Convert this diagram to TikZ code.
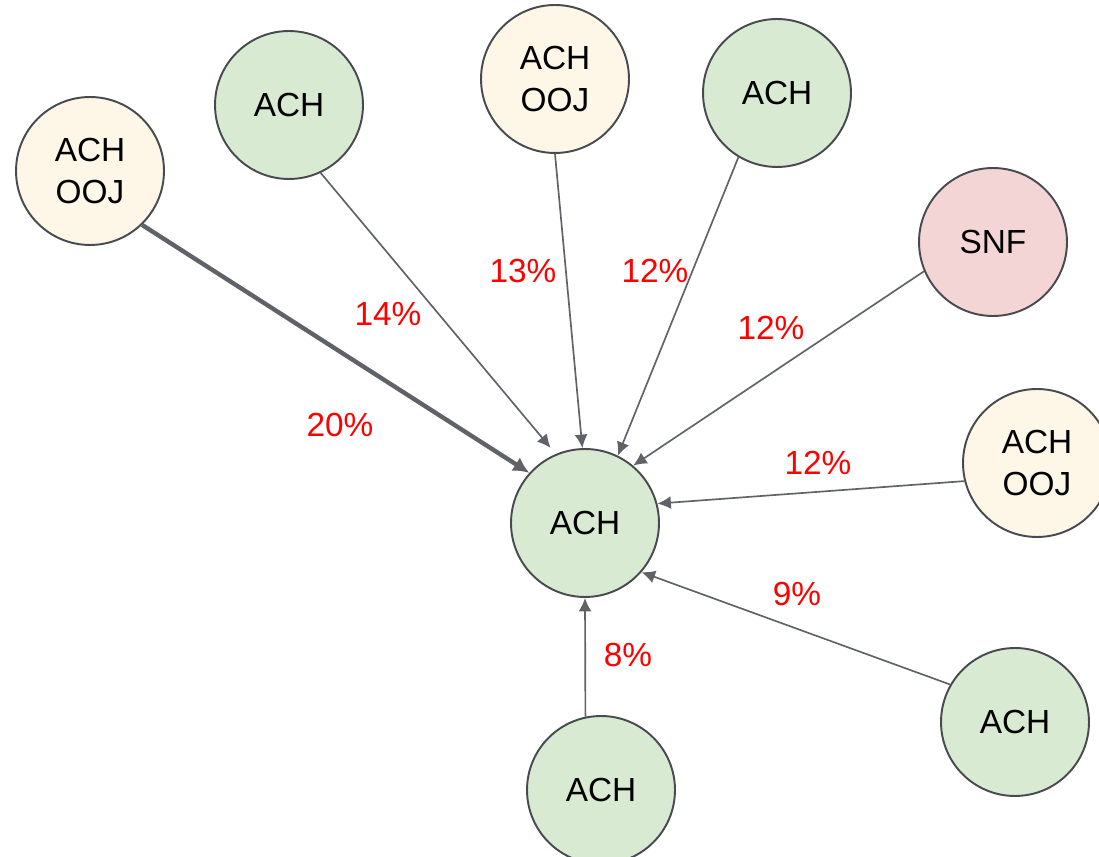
\documentclass[tikz,border=0pt]{standalone}
\usepackage{fontspec}
\setmainfont{Liberation Sans}
\usetikzlibrary{arrows.meta}

\definecolor{achgreen}{HTML}{D9EAD3}
\definecolor{oojcream}{HTML}{FEF6E6}
\definecolor{snfpink}{HTML}{F4D5D5}
\definecolor{rim}{HTML}{474B50}
\definecolor{wire}{HTML}{5F6368}

\begin{document}
\begin{tikzpicture}[
    x=0.02cm, y=-0.02cm,
    font=\fontsize{19}{24}\selectfont,
    st/.style={circle, draw=rim, line width=1.1pt, minimum size=2.96cm,
               inner sep=0pt, align=center},
    ach/.style={st, fill=achgreen},
    ooj/.style={st, fill=oojcream},
    snf/.style={st, fill=snfpink},
    flow/.style={-{Latex[length=0.27cm, width=0.26cm]}, line width=0.95pt, draw=wire},
    heavy/.style={flow, line width=2.5pt, -{Latex[length=0.32cm, width=0.32cm]}},
    pct/.style={text=red, inner sep=0pt}
]
\useasboundingbox (0,0) rectangle (1099,857);

% hub
\node[ach] (hub) at (585,523) {ACH};

% sources
\node[ooj] (s1) at (90,171) {ACH\\OOJ};
\node[ach] (s2) at (289,105) {ACH};
\node[ooj] (s3) at (555,79) {ACH\\OOJ};
\node[ach] (s4) at (777,93) {ACH};
\node[snf] (s5) at (993,242) {SNF};
\node[ooj] (s6) at (1037,463) {ACH\\OOJ};
\node[ach] (s7) at (1015,722) {ACH};
\node[ach] (s8) at (601,790) {ACH};

% edges
\draw[heavy] (s1.-46) -- (hub.138.6);
\draw[flow, shorten >=4.5pt] (s2.-65.5) -- (hub.113.2);
\foreach \s/\a/\b in {s3/-90/92, s4/-121/64, s5/-157/50.8, s6/-166/15.7,
                      s7/150/-41.4, s8/102/-90}{
  \draw[flow] (\s.\a) -- (hub.\b);
}

% shares
\foreach \t/\px/\py in {20\%/340/425, 14\%/388/314, 13\%/523/271, 12\%/655/271,
                        12\%/771/328, 12\%/818/463, 9\%/797/594, 8\%/628/655}{
  \node[pct] at (\px,\py) {\t};
}
\end{tikzpicture}
\end{document}
